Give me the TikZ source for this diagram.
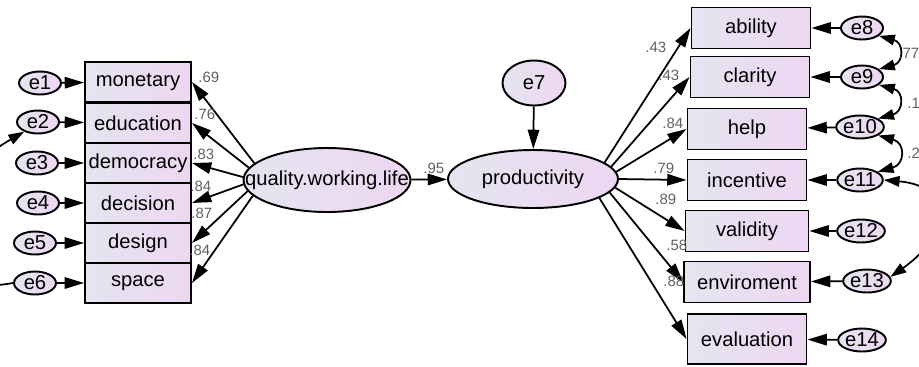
\documentclass[tikz,border=0pt]{standalone}
\usepackage{fontspec}
\setmainfont{Liberation Sans}
\usetikzlibrary{arrows.meta,shapes.geometric}
\definecolor{shadeL}{RGB}{228,229,240}
\definecolor{shadeR}{RGB}{238,214,242}
\tikzset{
  var/.style={draw,line width=1.1pt,left color=shadeL,right color=shadeR},
  obs/.style={var,rectangle,minimum width=2.12cm,minimum height=0.8cm,inner sep=0pt},
  obsr/.style={obs,minimum width=2.38cm,minimum height=0.82cm},
  lat/.style={var,ellipse,inner sep=0pt},
  err/.style={var,ellipse,inner sep=0pt,minimum width=0.84cm,minimum height=0.46cm},
  reg/.style={line width=1pt,-{Triangle[length=11pt,width=6.5pt]}},
  cov/.style={line width=1pt,{Triangle[length=9pt,width=6pt]}-{Triangle[length=9pt,width=6pt]}},
  covend/.style={line width=1pt,-{Triangle[length=9pt,width=6pt]}},
  wt/.style={anchor=west,inner sep=0pt,text=black!62,font=\fontsize{8.5}{9}\selectfont}
}
\begin{document}
\begin{tikzpicture}[x=0.02cm,y=-0.02cm,font=\fontsize{11.5}{13}\selectfont]
  \path[use as bounding box,fill=white] (0,0) rectangle (919,366);
  % left indicators
  \node[obs] (monetary) at (138,82) {monetary}; \node[obs] (education) at (138,123) {education};
  \node[obs] (democracy) at (138,163) {democracy}; \node[obs] (decision) at (138,203) {decision};
  \node[obs] (design) at (138,243) {design}; \node[obs] (space) at (138,283) {space};
  \node[err] (e1) at (40,83) {e1}; \node[err] (e2) at (38,122) {e2}; \node[err] (e3) at (37,163) {e3};
  \node[err] (e4) at (38,203) {e4}; \node[err] (e5) at (35,243) {e5}; \node[err] (e6) at (35,283) {e6};
  % latent variables
  \node[lat,minimum width=3.34cm,minimum height=1.28cm,label=center:quality.working.life] (qwl) at (327,180) {};
  \node[lat,minimum width=3.4cm,minimum height=1.16cm,label=center:productivity] (prod) at (533,179) {};
  \node[lat,minimum width=1.26cm,minimum height=0.9cm] (e7) at (534,83) {e7};
  % right indicators
  \node[obsr] (ability) at (751,28) {ability}; \node[obsr] (clarity) at (750,77) {clarity};
  \node[obsr] (help) at (747,129) {help}; \node[obsr] (incentive) at (747,180) {incentive};
  \node[obsr,minimum width=2.46cm] (validity) at (747,231) {validity};
  \node[obsr,minimum width=2.52cm] (enviroment) at (747,282) {enviroment};
  \node[obsr,minimum height=1cm] (evaluation) at (747,339) {evaluation};
  \node[err] (e8) at (862,28) {e8}; \node[err] (e9) at (862,77) {e9}; \node[err] (e10) at (860,127) {e10};
  \node[err] (e11) at (860,180) {e11}; \node[err] (e12) at (861,231) {e12};
  \node[err] (e13) at (867,281) {e13}; \node[err] (e14) at (862,340) {e14};
  % paths
  \draw[reg] (e1) -- (monetary); \draw[reg] (e2) -- (education); \draw[reg] (e3) -- (democracy);
  \draw[reg] (e4) -- (decision); \draw[reg] (e5) -- (design); \draw[reg] (e6) -- (space);
  \draw[reg] (qwl.167) -- (monetary.east); \draw[reg] (qwl.171) -- (education.east);
  \draw[reg] (qwl.178) -- (democracy.east); \draw[reg] (qwl.183) -- (decision.east);
  \draw[reg] (qwl.188) -- (design.east); \draw[reg] (qwl.192) -- (space.east);
  \draw[reg] (qwl) -- (prod); \draw[reg] (e7) -- (prod);
  \draw[reg] (prod.13) -- (ability.west); \draw[reg] (prod.9) -- (clarity.west);
  \draw[reg] (prod.5) -- (help.west); \draw[reg] (prod.0) -- (incentive.west);
  \draw[reg] (prod.-6) -- (validity.west); \draw[reg] (prod.-10) -- (enviroment.west);
  \draw[reg] (prod.-16) -- (evaluation.west);
  \draw[reg] (e8) -- (ability); \draw[reg] (e9) -- (clarity); \draw[reg] (e10) -- (help);
  \draw[reg] (e11) -- (incentive); \draw[reg] (e12) -- (validity);
  \draw[reg] (e13) -- (enviroment); \draw[reg] (e14) -- (evaluation);
  % covariances
  \draw[cov] (e8.-25) to[out=-15,in=15,looseness=2] (e9.25);
  \draw[cov] (e9.-25) to[out=-15,in=15,looseness=2] (e10.25);
  \draw[cov] (e10.-25) to[out=-15,in=15,looseness=2] (e11.25);
  \draw[cov] (e11.0) to[out=-5,in=35,looseness=1.9] (e13.10);
  \draw[covend] (e6.west) to[out=190,in=210,looseness=2] (e2.215);
  % weights
  \node[wt] (w1) at (198,77) {.69}; \node[wt] (w2) at (194,114) {.76}; \node[wt] (w3) at (193,154) {.83};
  \node[wt] (w4) at (190,186) {.84}; \node[wt] (w5) at (191,213) {.87}; \node[wt] (w6) at (189,250) {.84};
  \node[wt] (w7) at (423,168) {.95};
  \node[wt] (w8) at (645,47) {.43}; \node[wt] (w9) at (658,75) {.43}; \node[wt] (w10) at (662,123) {.84};
  \node[wt] (w11) at (653,168) {.79}; \node[wt] (w12) at (655,199) {.89}; \node[wt] (w13) at (666,245) {.58};
  \node[wt] (w14) at (663,281) {.88};
  \node[wt] (w15) at (898,53) {.77}; \node[wt] (w16) at (907,103) {.1}; \node[wt] (w17) at (907,153) {.2};
\end{tikzpicture}
\end{document}
